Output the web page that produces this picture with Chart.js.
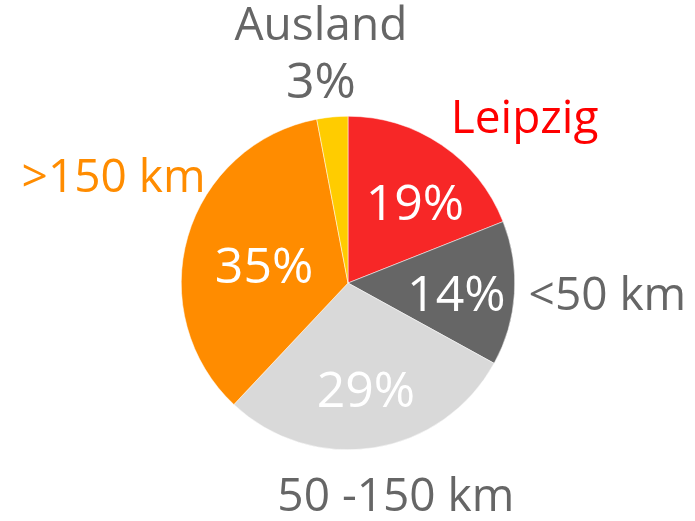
<!DOCTYPE html>
<html>
<head>
<meta charset="utf-8">
<script src="https://cdn.jsdelivr.net/npm/chart.js@4"></script>
<style>
  html, body { margin: 0; padding: 0; background: #fff; }
  #wrap { width: 695px; height: 521px; }
</style>
</head>
<body>
<div id="wrap"><canvas id="pie"></canvas></div>
<script>
const categories = ['Leipzig', '<50 km', '50 -150 km', '>150 km', 'Ausland'];
const shares = [19, 14, 29, 35, 3];
const sliceColors = ['#F72727', '#666666', '#D9D9D9', '#FF8C00', '#FFCC00'];
const labelColors = ['#FF0000', '#666666', '#666666', '#FF8C00', '#666666'];

// label placement: [radius factor, angle offset in degrees] from each slice's middle
const innerPos = [[0.627, 5.6], [0.653, 2.2], [0.65, -0.5], [0.514, -4.4], null];
const outerPos = [[1.455, 12.5], [1.557, -1.2], [1.305, -3.7], [1.545, 8.3], [1.393, -1.3]];

const FONT = '"Open Sans", sans-serif';
const WORD_SIZE = 46;
const PCT_SIZE = 50;
const SHIFT = 3;

const pieLabels = {
    id: 'pieLabels',
    afterDatasetsDraw: (chart) => {
        const ctx = chart.ctx;
        const meta = chart.getDatasetMeta(0);
        ctx.save();
        ctx.textAlign = 'center';
        ctx.textBaseline = 'middle';
        meta.data.forEach((arc, i) => {
            const p = arc.getProps(['x', 'y', 'startAngle', 'endAngle', 'outerRadius'], true);
            const mid = (p.startAngle + p.endAngle) / 2;
            const at = (pos) => {
                const a = mid + pos[1] * Math.PI / 180;
                const r = p.outerRadius * pos[0];
                return [p.x + Math.cos(a) * r, p.y + Math.sin(a) * r + SHIFT];
            };
            const pct = shares[i] + '%';
            const [ox, oy] = at(outerPos[i]);
            ctx.fillStyle = labelColors[i];
            if (innerPos[i]) {
                ctx.font = WORD_SIZE + 'px ' + FONT;
                ctx.fillText(categories[i], ox, oy);
                const [x, y] = at(innerPos[i]);
                ctx.fillStyle = '#FFFFFF';
                ctx.font = PCT_SIZE + 'px ' + FONT;
                ctx.fillText(pct, x, y);
            } else {
                ctx.font = WORD_SIZE + 'px ' + FONT;
                ctx.fillText(categories[i], ox, oy - 28.5);
                ctx.font = PCT_SIZE + 'px ' + FONT;
                ctx.fillText(pct, ox, oy + 28.5);
            }
        });
        ctx.restore();
    }
};

new Chart(document.getElementById('pie'), {
    type: 'pie',
    data: {
        labels: categories,
        datasets: [{
            data: shares,
            backgroundColor: sliceColors,
            borderColor: '#FFFFFF',
            borderWidth: 0.5
        }]
    },
    options: {
        responsive: true,
        maintainAspectRatio: false,
        animation: false,
        layout: {
            padding: { left: 181, right: 180, top: 116, bottom: 71 }
        },
        plugins: {
            legend: { display: false },
            tooltip: { enabled: false }
        }
    },
    plugins: [pieLabels]
});
</script>
</body>
</html>
